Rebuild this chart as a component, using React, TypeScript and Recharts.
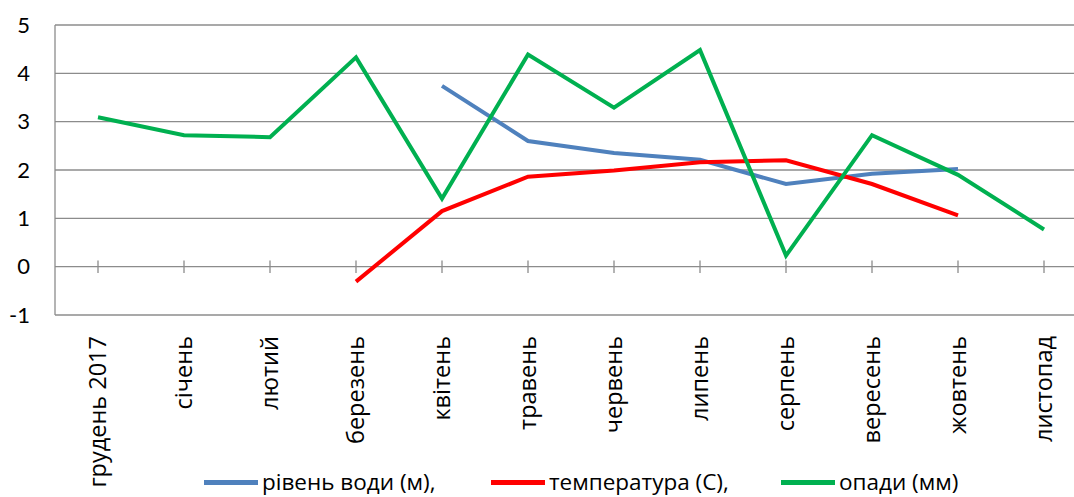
import React from 'react';
import { ComposedChart, Line, XAxis, YAxis, CartesianGrid, Legend, ReferenceLine } from 'recharts';

const months = [
  'грудень 2017', 'січень', 'лютий', 'березень', 'квітень', 'травень',
  'червень', 'липень', 'серпень', 'вересень', 'жовтень', 'листопад',
];

const waterLevel = [null, null, null, null, 3.74, 2.6, 2.35, 2.21, 1.71, 1.92, 2.02, null];
const temperature = [null, null, null, -0.31, 1.15, 1.86, 1.99, 2.16, 2.2, 1.71, 1.06, null];
const precipitation = [3.09, 2.72, 2.68, 4.33, 1.41, 4.39, 3.29, 4.48, 0.23, 2.72, 1.9, 0.77];

const yTicks = [-1, 0, 1, 2, 3, 4, 5];

const SERIES = [
  { key: 'water', name: 'рівень води (м),', color: '#4F81BD', left: 204 },
  { key: 'temp', name: 'температура (С),', color: '#FF0000', left: 491 },
  { key: 'rain', name: 'опади (мм)', color: '#00B050', left: 781 },
];

const GRID = '#8C8C8C';

const MonthTick = (props: any) => {
  const { x, y, payload } = props;
  return (
    <text
      x={x}
      y={y + 13}
      transform={`rotate(-90, ${x}, ${y + 13})`}
      textAnchor="end"
      dy="0.36em"
      fill="#000"
      fontFamily="'Open Sans', sans-serif"
      fontSize={23.5}
    >
      {payload.value}
    </text>
  );
};

// legend drawn by hand so the swatches sit where the reference has them
const LegendContent = () => (
  <div style={{ position: 'relative', height: 28, fontFamily: "'Open Sans', sans-serif", fontSize: 22.5, lineHeight: '24px', color: '#000' }}>
    {SERIES.map(s => (
      <div key={s.key} style={{ position: 'absolute', left: s.left, top: 1, display: 'flex', alignItems: 'center', whiteSpace: 'nowrap' }}>
        <span style={{ display: 'inline-block', width: 54, height: 5, background: s.color, marginRight: 4 }} />
        <span>{s.name}</span>
      </div>
    ))}
  </div>
);

export default function App() {
  const data = months.map((m, i) => ({
    month: m,
    water: waterLevel[i],
    temp: temperature[i],
    rain: precipitation[i],
  }));

  return (
    <div style={{ width: 1074, height: 497, overflow: 'hidden', background: '#fff', position: 'relative' }}>
      <style>{`body { margin: 0; }`}</style>
      <ComposedChart width={1087} height={497} data={data} margin={{ top: 25, right: 0, bottom: 0, left: 0 }}>
        <CartesianGrid vertical={false} stroke={GRID} strokeWidth={1.3} />
        <XAxis
          dataKey="month"
          axisLine={false}
          tickLine={false}
          interval={0}
          height={154}
          padding={{ left: 43, right: 43 }}
          tick={<MonthTick />}
        />
        <YAxis
          domain={[-1, 5]}
          ticks={yTicks}
          width={55}
          axisLine={{ stroke: GRID, strokeWidth: 1.3 }}
          tickLine={false}
          tickSize={0}
          tickMargin={25}
          tick={{ fill: '#000', fontSize: 22, fontFamily: 'Lato, sans-serif' }}
        />
        {months.map(m => (
          <ReferenceLine
            key={m}
            segment={[{ x: m, y: 0.13 }, { x: m, y: -0.13 }]}
            stroke={GRID}
            strokeWidth={1.3}
          />
        ))}
        <Legend verticalAlign="bottom" height={28} content={<LegendContent />} />
        <Line dataKey="water" name={SERIES[0].name} stroke={SERIES[0].color} strokeWidth={4} dot={false} isAnimationActive={false} />
        <Line dataKey="temp" name={SERIES[1].name} stroke={SERIES[1].color} strokeWidth={4} dot={false} isAnimationActive={false} />
        <Line dataKey="rain" name={SERIES[2].name} stroke={SERIES[2].color} strokeWidth={4} dot={false} isAnimationActive={false} />
      </ComposedChart>
    </div>
  );
}
